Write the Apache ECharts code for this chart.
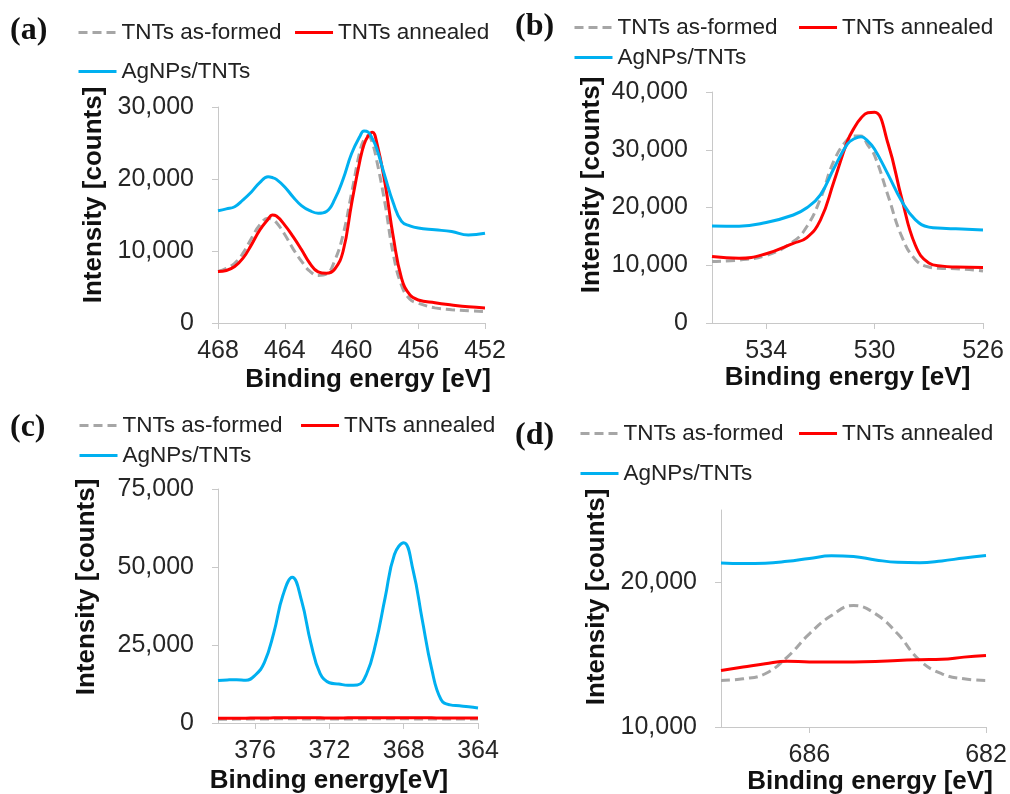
<!DOCTYPE html>
<html>
<head>
<meta charset="utf-8">
<script src="https://cdn.jsdelivr.net/npm/echarts@6/dist/echarts.min.js"></script>
<style>
  html, body { margin: 0; padding: 0; background: #fff; }
  #chart { width: 1010px; height: 794px; }
</style>
</head>
<body>
<div id="chart"></div>
<script>
// series names (same three in every panel)
const names = ["TNTs as-formed", "TNTs annealed", "AgNPs/TNTs"];

// (a) Ti 2p
const energyA = [468, 467.5, 467, 466.5, 466, 465.5, 465, 464.75, 464.5, 464, 463.5, 463, 462.5, 462, 461.5, 461,
  460.5, 460, 459.5, 459.25, 459, 458.75, 458.5, 458, 457.5, 457, 456.5, 456, 455, 454, 453, 452];
const grayA = [7150, 7600, 8300, 9700, 11750, 13600, 14550, 14400, 13950, 12300, 10300, 8600, 7200, 6600, 6800, 8700,
  12300, 18000, 23800, 25500, 26000, 25000, 22700, 16700, 9600, 5200, 3300, 2750, 2100, 1850, 1700, 1600];
const redA = [7150, 7300, 7850, 9000, 10850, 12900, 14400, 15000, 14850, 13600, 12000, 10200, 8300, 7100, 6900, 7500,
  10000, 16500, 22500, 24800, 26000, 26500, 25200, 19500, 12000, 6200, 3900, 3200, 2800, 2500, 2250, 2100];
const blueA = [15600, 15850, 16150, 17100, 18200, 19500, 20300, 20200, 19950, 18900, 17500, 16300, 15600, 15250, 15500, 17200,
  20000, 23500, 25900, 26650, 26500, 25600, 24300, 20400, 16700, 14100, 13500, 13200, 12950, 12700, 12230, 12460];

// (b) O 1s
const energyB = [536, 535, 534, 533, 532.5, 532, 531.5, 531, 530.75, 530.5, 530.25, 530, 529.5, 529, 528.5, 528, 527.5, 527, 526];
const grayB = [10650, 10900, 11700, 14100, 16700, 21500, 28100, 31800, 32400, 32400, 30800, 29000, 22000, 15000, 11000, 9700, 9450, 9400, 9000];
const redB = [11500, 11200, 12000, 13800, 14800, 17800, 24500, 31500, 33800, 35500, 36400, 36500, 31000, 21600, 13500, 10400, 9850, 9700, 9600];
const blueB = [16800, 16750, 17400, 18700, 19950, 22200, 26800, 31000, 31900, 32250, 31500, 30100, 25700, 21100, 17900, 16600, 16400, 16300, 16100];

// (c) Ag 3d
const energyC = [378, 377.5, 377, 376.5, 376, 375.5, 375, 374.5, 374, 373.5, 373, 372.5, 372, 371.5, 371,
  370.5, 370, 369.5, 369, 368.5, 368, 367.5, 367, 366.5, 366, 365.5, 365, 364.5, 364];
const grayC = [1200, 1200, 1250, 1250, 1300, 1300, 1300, 1350, 1350, 1300, 1300, 1300, 1250, 1250, 1300,
  1300, 1300, 1350, 1350, 1350, 1350, 1300, 1300, 1300, 1250, 1250, 1250, 1250, 1250];
const redC = [1500, 1500, 1550, 1550, 1600, 1600, 1650, 1700, 1700, 1700, 1650, 1650, 1600, 1600, 1650,
  1650, 1650, 1700, 1700, 1700, 1700, 1700, 1650, 1650, 1600, 1600, 1600, 1600, 1600];
const blueC = [13600, 13800, 13900, 13700, 15300, 19400, 28800, 41000, 46700, 39200, 25600, 15800, 12900, 12500, 12100,
  12200, 15700, 25700, 40200, 54000, 57800, 49100, 33000, 17500, 7600, 5800, 5500, 5200, 4800];

// (d) F 1s
const energyD = [688, 687.5, 687, 686.5, 686, 685.5, 685, 684.5, 684, 683.5, 683, 682.5, 682];
const grayD = [13220, 13330, 13680, 14830, 16440, 17700, 18400, 17820, 16440, 14600, 13680, 13330, 13220];
const redD = [13910, 14140, 14370, 14550, 14490, 14490, 14490, 14520, 14600, 14650, 14680, 14830, 14950];
const blueD = [21340, 21300, 21320, 21450, 21650, 21830, 21780, 21550, 21380, 21350, 21480, 21680, 21850];

// tick labels
const xTicksA = [468, 464, 460, 456, 452];
const xTicksB = [534, 530, 526];
const xTicksC = [376, 372, 368, 364];
const xTicksD = [686, 682];
const yTicksA = [0, 10000, 20000, 30000];
const yTicksB = [0, 10000, 20000, 30000, 40000];
const yTicksC = [0, 25000, 50000, 75000];
const yTicksD = [10000, 20000];

const colors = ["#a6a6a6", "#ff0000", "#00b0f0"];
const axisColor = "#c8c8c8";
const sans = "Liberation Sans, Arial, sans-serif";

const panels = [
  {
    label: "(a)", labelPos: [10, 15],
    grid: { left: 218, top: 107, width: 267, height: 216 },
    xMin: 452, xMax: 468, xTicks: xTicksA, yMin: 0, yMax: 30000, yTicks: yTicksA,
    energy: energyA, values: [grayA, redA, blueA],
    xName: "Binding energy [eV]", xNameGap: 44, xPad: [0, 0, 0, 33],
    yNameGap: 111, yPad: [0, 0, 0, 40],
    legend1: { left: 77, top: 21, gap: 12 }, legend2: { left: 77, top: 60 }
  },
  {
    label: "(b)", labelPos: [515, 11],
    grid: { left: 712, top: 92, width: 271, height: 231 },
    xMin: 526, xMax: 536, xTicks: xTicksB, yMin: 0, yMax: 40000, yTicks: yTicksB,
    energy: energyB, values: [grayB, redB, blueB],
    xName: "Binding energy [eV]", xNameGap: 41, xPad: [0, 0, 0, 0],
    yNameGap: 107, yPad: [0, 0, 0, 45],
    legend1: { left: 573, top: 16, gap: 20 }, legend2: { left: 573, top: 46 }
  },
  {
    label: "(c)", labelPos: [10, 412],
    grid: { left: 218, top: 489, width: 260, height: 234 },
    xMin: 364, xMax: 378, xTicks: xTicksC, yMin: 0, yMax: 75000, yTicks: yTicksC,
    energy: energyC, values: [grayC, redC, blueC],
    xName: "Binding energy[eV]", xNameGap: 45, xPad: [0, 38, 0, 0],
    yNameGap: 118, yPad: [0, 0, 0, 38],
    legend1: { left: 78, top: 414, gap: 17 }, legend2: { left: 78, top: 444 }
  },
  {
    label: "(d)", labelPos: [515, 420],
    grid: { left: 721, top: 510, width: 265, height: 217 },
    xMin: 682, xMax: 688, xTicks: xTicksD, yMin: 10000, yMax: 25000, yTicks: yTicksD,
    energy: energyD, values: [grayD, redD, blueD],
    xName: "Binding energy [eV]", xNameGap: 36, xPad: [0, 0, 0, 33],
    yNameGap: 111, yPad: [0, 0, 0, 43],
    legend1: { left: 579, top: 422, gap: 14 }, legend2: { left: 579, top: 462 }
  }
];

const option = {
  backgroundColor: "#fff",
  animation: false,
  title: [],
  legend: [],
  grid: [],
  xAxis: [],
  yAxis: [],
  series: []
};

panels.forEach((p, i) => {
  option.title.push({
    text: p.label, left: p.labelPos[0], top: p.labelPos[1], padding: 0,
    textStyle: { fontFamily: "Liberation Serif, Times New Roman, serif", fontWeight: "bold", fontSize: 32, color: "#111" }
  });

  // legend icon = the line only (hide the marker symbol)
  const legendBase = {
    orient: "horizontal", padding: 0, itemWidth: 38, itemHeight: 14, selectedMode: false,
    itemStyle: { opacity: 0, borderWidth: 0 },
    lineStyle: { width: 3 },
    textStyle: { fontFamily: sans, fontSize: 22.5, color: "#222" }
  };
  option.legend.push(Object.assign({}, legendBase, {
    left: p.legend1.left, top: p.legend1.top, itemGap: p.legend1.gap, data: [names[0], names[1]]
  }));
  option.legend.push(Object.assign({}, legendBase, {
    left: p.legend2.left, top: p.legend2.top, data: [names[2]]
  }));

  option.grid.push(Object.assign({ outerBoundsMode: "none", containLabel: false }, p.grid));

  option.xAxis.push({
    gridIndex: i, type: "value", inverse: true, min: p.xMin, max: p.xMax,
    axisLine: { show: true, onZero: false, lineStyle: { color: axisColor, width: 1 } },
    axisTick: { show: true, length: 6, customValues: p.xTicks, lineStyle: { color: axisColor } },
    axisLabel: { customValues: p.xTicks, margin: 16, fontSize: 25, color: "#262626", fontFamily: sans },
    splitLine: { show: false },
    name: p.xName, nameLocation: "middle", nameGap: p.xNameGap,
    nameTextStyle: { fontFamily: sans, fontWeight: "bold", fontSize: 26, color: "#111", padding: p.xPad }
  });

  option.yAxis.push({
    gridIndex: i, type: "value", min: p.yMin, max: p.yMax,
    axisLine: { show: true, onZero: false, lineStyle: { color: axisColor, width: 1 } },
    axisTick: { show: true, length: 6, customValues: p.yTicks, lineStyle: { color: axisColor } },
    axisLabel: {
      customValues: p.yTicks, margin: 24, fontSize: 25, color: "#262626", fontFamily: sans,
      formatter: (v) => Number(v).toLocaleString("en-US")
    },
    splitLine: { show: false },
    name: "Intensity [counts]", nameLocation: "middle", nameRotate: 90, nameGap: p.yNameGap,
    nameTextStyle: { fontFamily: sans, fontWeight: "bold", fontSize: 26, color: "#111", padding: p.yPad }
  });

  p.values.forEach((vals, k) => {
    option.series.push({
      name: names[k], type: "line", xAxisIndex: i, yAxisIndex: i,
      data: p.energy.map((e, j) => [e, vals[j]]),
      smooth: 0.45, symbol: "none", clip: true,
      lineStyle: { color: colors[k], width: 3, type: k === 0 ? [9, 5] : "solid" },
      itemStyle: { color: colors[k] },
      z: 2 + k
    });
  });
});

const chart = echarts.init(document.getElementById("chart"), null, { renderer: "canvas" });
chart.setOption(option);
</script>
</body>
</html>
